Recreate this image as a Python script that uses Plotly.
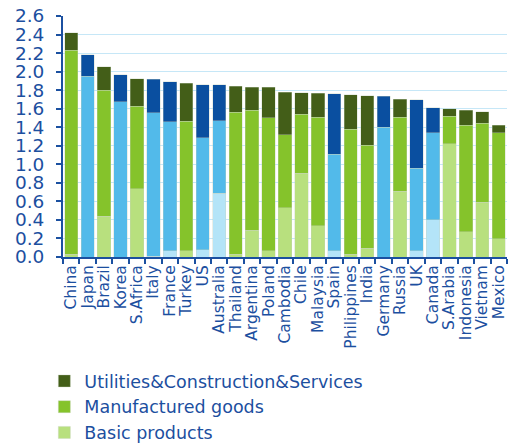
import plotly.graph_objects as go

countries = ["China", "Japan", "Brazil", "Korea", "S.Africa", "Italy", "France", "Turkey", "US",
             "Australia", "Thailand", "Argentina", "Poland", "Cambodia", "Chile", "Malaysia", "Spain",
             "Philippines", "India", "Germany", "Russia", "UK", "Canada", "S.Arabia", "Indonesia",
             "Vietnam", "Mexico"]
basic = [0.03, 0.0, 0.44, 0.0, 0.735, 0.01, 0.07, 0.07, 0.08,
         0.69, 0.03, 0.29, 0.07, 0.53, 0.905, 0.335, 0.065,
         0.03, 0.095, 0.0, 0.71, 0.065, 0.40, 1.22, 0.27,
         0.59, 0.195]
manufactured = [2.20, 1.95, 1.36, 1.675, 0.89, 1.545, 1.39, 1.395, 1.205,
                0.78, 1.53, 1.295, 1.43, 0.79, 0.635, 1.175, 1.045,
                1.35, 1.11, 1.40, 0.80, 0.895, 0.94, 0.30, 1.15,
                0.855, 1.145]
services = [0.19, 0.23, 0.25, 0.29, 0.30, 0.36, 0.43, 0.41, 0.575,
            0.39, 0.28, 0.245, 0.33, 0.46, 0.23, 0.255, 0.65,
            0.37, 0.535, 0.335, 0.19, 0.735, 0.27, 0.08, 0.165,
            0.12, 0.08]
advanced = ["Japan", "Korea", "Italy", "France", "US", "Australia", "Spain", "Germany", "UK", "Canada"]

TXT = "#1c4f9f"
green = {"basic": "#b8e07e", "man": "#85c32b", "serv": "#435e18"}
blue = {"basic": "#b4e4f8", "man": "#52baea", "serv": "#0a4fa0"}

def cols(key):
    return [blue[key] if c in advanced else green[key] for c in countries]

fig = go.Figure()
for name, vals, key in [("Basic products", basic, "basic"),
                        ("Manufactured goods", manufactured, "man"),
                        ("Utilities&Construction&Services", services, "serv")]:
    fig.add_trace(go.Bar(x=countries, y=vals, name=name,
                         marker=dict(color=cols(key), line=dict(color="rgba(200,210,190,0.6)", width=0.6))))

fig.update_layout(
    width=512, height=443,
    margin=dict(l=63, r=5, t=16, b=186, autoexpand=False),
    barmode="stack", bargap=0.19,
    plot_bgcolor="white", paper_bgcolor="white",
    font=dict(family="DejaVu Sans", color=TXT),
    showlegend=True,
    legend=dict(orientation="v", traceorder="reversed", x=-0.042, y=-0.44,
                xanchor="left", yanchor="top", font=dict(size=17.5, color=TXT),
                itemwidth=30, tracegroupgap=0, bgcolor="rgba(0,0,0,0)"),
    xaxis=dict(tickangle=-90, tickfont=dict(size=15.5, color=TXT), showline=True,
               linecolor="#1b50a0", linewidth=2, ticks="outside", ticklen=5, tickwidth=2,
               tickcolor="#1b50a0", tickson="boundaries", showgrid=False,
               tickmode="linear", dtick=1, automargin=False),
    yaxis=dict(range=[0, 2.6], dtick=0.2, tickformat=".1f", tickfont=dict(size=18.5, color=TXT),
               showline=True, linecolor="#1b50a0", linewidth=2, ticks="outside", ticklen=5,
               tickwidth=2, tickcolor="#1b50a0", gridcolor="#c6e7f7", gridwidth=1,
               zeroline=False, ticklabelstandoff=8, automargin=False),
)
fig.write_html("out.html")
